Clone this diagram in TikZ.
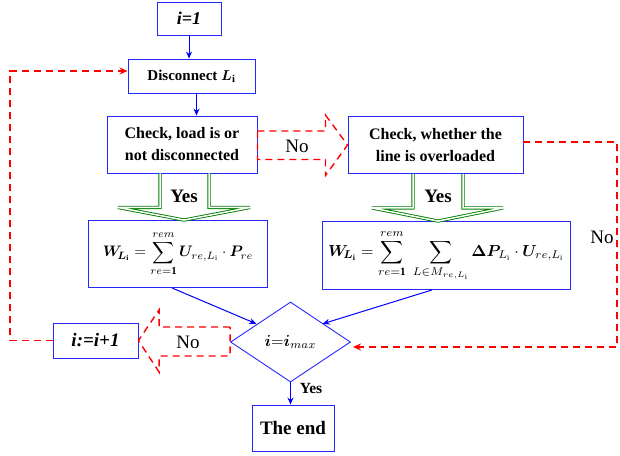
\documentclass[tikz,border=0pt]{standalone}
\usepackage{graphicx}
\usepackage{amsmath,bm}
\usepackage{fontspec}
\setmainfont{Liberation Serif}
\usetikzlibrary{shapes.geometric,calc,arrows.meta}
\begin{document}
\begin{tikzpicture}[x=1pt,y=-1pt,
  box/.style={draw=blue!85!white, line width=0.9pt, fill=white, align=center, inner sep=0pt,
    font=\bfseries\fontsize{16}{22}\selectfont},
  flow/.style={draw=blue, line width=1pt, -{Stealth[length=7pt,width=6pt]}},
  reddash/.style={draw=red, line width=1.4pt, dash pattern=on 7pt off 5pt},
  redarr/.style={reddash, -{Stealth[length=8pt,width=7pt]}},
  greenarr/.style={draw=green!50!black, double=white, double distance=1.5pt, line width=0.9pt, line join=miter},
  lbl/.style={font=\fontsize{19}{22}\selectfont, inner sep=1pt},
]
\useasboundingbox (0,0) rectangle (620,455);
% nodes
\node[box, minimum width=64pt, minimum height=33pt, font=\bfseries\itshape\fontsize{18}{20}\selectfont] (start) at (189,18.5) {i=1};
\node[box, minimum width=127pt, minimum height=34pt, font=\bfseries\fontsize{15}{18}\selectfont] (disc) at (191.5,76) {Disconnect $\bm{L_{\mathrm{i}}}$};
\node[box, minimum width=150pt, minimum height=57pt] (chk1) at (182,144.5) {Check, load is or\\not disconnected};
\node[box, minimum width=175pt, minimum height=57pt] (chk2) at (435.5,145) {Check, whether the\\line is overloaded};
\node[box, minimum width=179pt, minimum height=67pt, font=\normalsize] (f1) at (178,254)
  {\scalebox{1.52}{$\displaystyle \bm{W}_{\!\bm{L_{\mathrm{i}}}} = \sum_{re=\mathbf{1}}^{rem} \bm{U}_{re,L_{\mathrm{i}}}\cdot \bm{P}_{re}$}};
\node[box, minimum width=248pt, minimum height=68pt, font=\normalsize] (f2) at (446,255.5)
  {\scalebox{1.6}{$\displaystyle \bm{W}_{\!\bm{L_{\mathrm{i}}}} = \sum_{re=\mathbf{1}}^{rem}\;\sum_{L\in M_{re,L_{\mathrm{i}}}} \bm{\Delta P}_{L_{\mathrm{i}}}\cdot \bm{U}_{re,L_{\mathrm{i}}}$}};
\node[diamond, draw=blue!85!white, line width=0.9pt, fill=white, minimum width=120pt, minimum height=80pt, inner sep=0pt,
  font=\normalsize] (dec) at (290.5,342)
  {\scalebox{1.6}{$\bm{i}{\mathbf{=}}\bm{i}_{max}$}};
\node[box, minimum width=85pt, minimum height=35pt, font=\bfseries\itshape\fontsize{19}{22}\selectfont] (inc) at (95.5,340.5) {i:=i+1};
\node[box, minimum width=82pt, minimum height=46pt, font=\bfseries\fontsize{19}{22}\selectfont] (end) at (293,428) {The end};
% blue flow
\draw[flow] (start.south) -- (start.south |- disc.north);
\coordinate (d1) at ($(disc.south)+(5,0)$);
\draw[flow] (d1) -- (d1 |- chk1.north);
\draw[flow] ($(f1.south)+(-6,0)$) -- ($(dec.north west)+(-4,2)$);
\draw[flow] ($(f2.south)+(-14,0)$) -- ($(dec.north east)+(2,2)$);
\draw[flow] (dec.south) -- (dec.south |- end.north);
\node[font=\bfseries\fontsize{15.5}{18}\selectfont] (yes3) at (311,388) {Yes};
% green hollow arrows
\draw[greenarr] ($(chk1.south)+(-22,0)$) -- ++(0,34) -- ++(-42,0) -- ($(f1.north)+(6,0)$) -- ($(chk1.south)+(68,34)$) -- ++(-41,0) -- ++(0,-34);
\node[lbl, font=\bfseries\fontsize{19}{22}\selectfont] (yes1) at (184,196) {Yes};
\draw[greenarr] ($(chk2.south)+(-22.5,0)$) -- ++(0,34) -- ++(-41,0) -- ($(f2.north)+(-8,0)$) -- ($(chk2.south)+(67.5,34)$) -- ++(-40,0) -- ++(0,-34);
\node[lbl, font=\bfseries\fontsize{19}{22}\selectfont] (yes2) at (438,196) {Yes};
% red hollow arrows
\draw[reddash] ($(chk1.east)+(0,-13.5)$) -- ++(68,0) -- ++(0,-16) -- (chk2.west) -- ($(chk1.east)+(68,31)$) -- ++(0,-16) -- ++(-68,0) -- cycle;
\node[lbl] (no1) at (297,146) {No};
\draw[reddash] ($(dec.west)+(0,-15)$) -- ++(-71,0) -- ++(0,-17) -- (inc.east) -- ($(dec.west)+(-71,30)$) -- ++(0,-16) -- ++(71,0) -- cycle;
\node[lbl] (no2) at (188,342) {No};
% red dashed loops
\coordinate (rc) at (617,142);
\draw[redarr] ($(chk2.east)+(0,-3)$) -- (rc) |- ($(dec.east)+(2,5)$);
\node[lbl] (no3) at (602,237) {No};
\coordinate (lc) at (10,340.5);
\draw[redarr] (inc.west) -- (lc) |- ($(disc.west)+(0,-5)$);
\end{tikzpicture}
\end{document}
